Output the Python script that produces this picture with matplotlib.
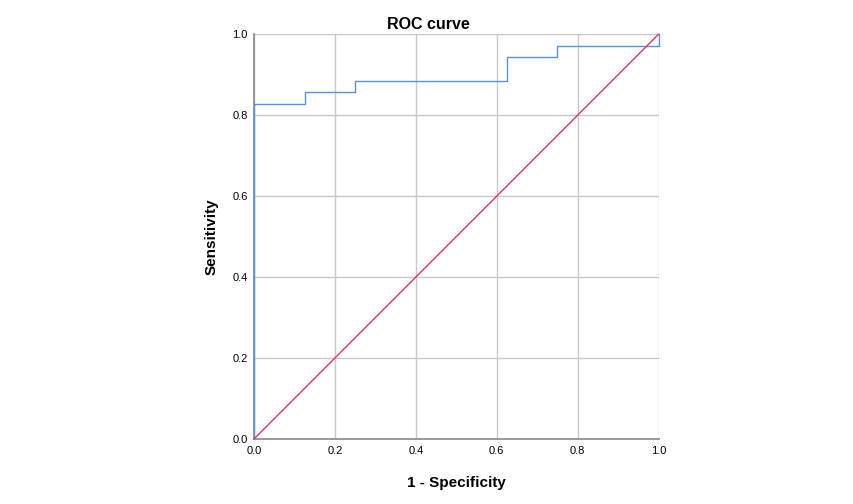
import matplotlib
matplotlib.use("Agg")
import matplotlib.pyplot as plt

fpr = [0.0, 0.0, 0.125, 0.125, 0.25, 0.25, 0.625, 0.625, 0.75, 0.75, 1.0, 1.0]
tpr = [0.0, 29/35, 29/35, 30/35, 30/35, 31/35, 31/35, 33/35, 33/35, 34/35, 34/35, 1.0]
ref_x = [0.0, 1.0]
ref_y = [0.0, 1.0]
ticks = [0.0, 0.2, 0.4, 0.6, 0.8, 1.0]

plt.rcParams['font.family'] = ['Liberation Sans', 'DejaVu Sans']
fig = plt.figure(figsize=(8.54, 5.04), dpi=100)
ax = fig.add_axes([0.2974, 0.129, 0.4737, 0.803])

ax.plot(fpr, tpr, color='#5b8fd6', lw=1.0, zorder=3, clip_on=False)
ax.plot(ref_x, ref_y, color='#e8325a', lw=1.0, zorder=3, clip_on=False)

ax.set_xlim(0, 1)
ax.set_ylim(0, 1)
ax.set_xticks(ticks)
ax.set_yticks(ticks)
ax.set_xticklabels([f"{t:.1f}" for t in ticks], fontsize=8)
ax.set_yticklabels([f"{t:.1f}" for t in ticks], fontsize=8)
ax.tick_params(axis='x', length=0, pad=5)
ax.tick_params(axis='y', length=0, pad=4.5)
ax.grid(True, color='#c8c8c8', lw=1.0, zorder=0)
ax.set_axisbelow(True)
for s in ['top', 'right']:
    ax.spines[s].set_visible(False)
for s in ['left', 'bottom']:
    ax.spines[s].set_color('#888888')
    ax.spines[s].set_linewidth(1.2)

ax.set_title("ROC curve", fontsize=11.5, fontweight='bold', pad=4, x=0.43)
ax.set_xlabel("1 - Specificity", fontsize=11, fontweight='bold', labelpad=14.5)
ax.set_ylabel("Sensitivity", fontsize=11, fontweight='bold', labelpad=10)

fig.savefig("out.png", dpi=100)
